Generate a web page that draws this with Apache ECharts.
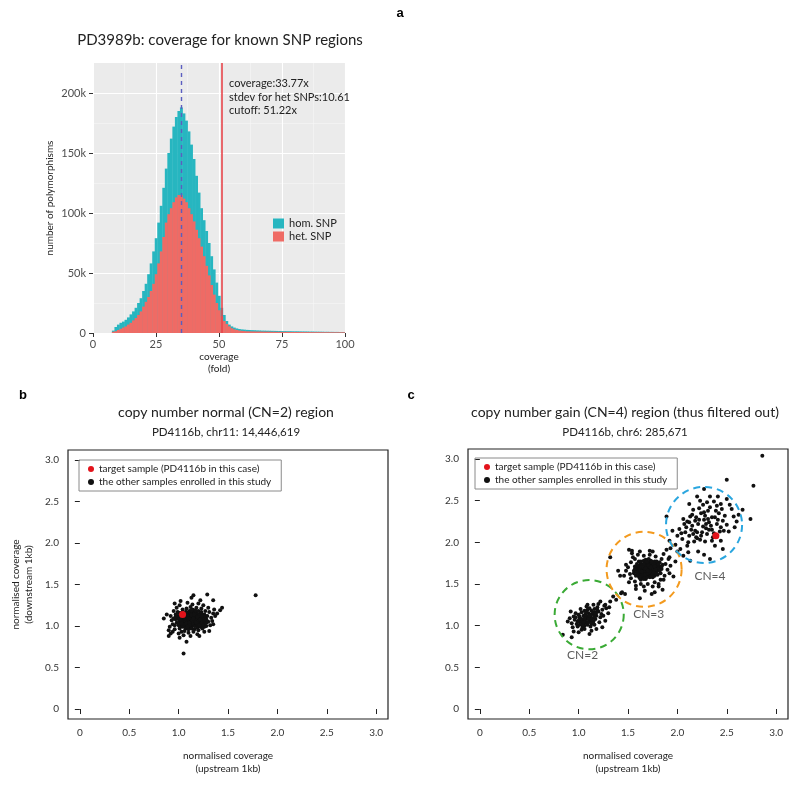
<!DOCTYPE html>
<html><head><meta charset="utf-8">
<script src="https://cdn.jsdelivr.net/npm/echarts/dist/echarts.min.js"></script>
<style>html,body{margin:0;padding:0;background:#fff}#main{width:800px;height:786px}</style>
</head><body><div id="main"></div>
<script>
// ---------- Panel a: histogram (counts in thousands, bins of width 1 starting at coverage 8) ----------
const binStart = 8;
const homCounts = [2,5,7,8.5,9.5,11,13,15.5,18,21,25,29,35,
  41,49,58,68,79,92,106,121,137,150,162,172,180,185,188,
  183,177,168,157,145,131,117,104,94,85,75,64,53,42,31,21,15,10,7,5.5,4.5,3.8,3.3,3.0,2.8,
  2.6,2.5,2.4,2.3,2.2,2.1,2.0,1.95,1.9,1.85,1.8,1.75,1.7,1.65,1.6,1.55,1.5,1.5,1.45,1.4,
  1.4,1.35,1.3,1.3,1.25,1.2,1.2,1.15,1.1,1.1,1.05,1.0,1.0,0.95,0.95,0.9,0.9,0.85,0.85,0.8];
const hetCounts = [1,1.5,2.5,3.5,4.5,5.5,7,8.5,10.5,12.5,15,18,22,
  26,30,35,41,49,58,68,80,92,99,104,109,113,115,115,
  112,109,104,99,93,86,79,72,64,56,48,40,32,25,19,14,10,7.5,5.5,4,3,2.5,2,1.8,1.6,
  1.4,1.35,1.3,1.25,1.2,1.2,1.15,1.1,1.1,1.05,1.0,1.0,0.95,0.95,0.9,0.9,0.9,0.85,0.85,0.85,
  0.8,0.8,0.8,0.75,0.75,0.75,0.7,0.7,0.7,0.7,0.65,0.65,0.65,0.65,0.6,0.6,0.6,0.6,0.6,0.6];
const histYTicks = [0,50,100,150,200];
const modeCoverage = 35;
const cutoffCoverage = 51.22;
const annotationLines = ['coverage:33.77x','stdev for het SNPs:10.61','cutoff: 51.22x'];

// ---------- Panels b and c: scatter ----------
const scatterTicks = [0,0.5,1.0,1.5,2.0,2.5,3.0];
const targetName = 'target sample (PD4116b in this case)';
const otherName = 'the other samples enrolled in this study';

const bTarget = [[1.04,1.14]];
const bOthers = [
[1.12,1.08],[1.05,1.10],[1.18,1.06],[1.09,1.02],[1.15,1.13],[1.01,1.05],[1.22,1.10],[1.07,1.15],[1.13,1.00],[1.19,1.14],
[1.03,1.12],[1.10,1.06],[1.16,1.03],[1.24,1.07],[1.00,1.08],[1.08,1.11],[1.14,1.09],[1.20,1.02],[1.06,1.04],[1.11,1.15],
[1.17,1.10],[1.02,1.00],[1.13,1.05],[1.25,1.12],[1.09,1.08],[0.99,1.12],[1.21,1.05],[1.04,1.07],[1.16,1.17],[1.12,1.02],
[1.07,1.00],[1.18,1.00],[1.26,1.03],[1.03,1.16],[1.10,1.12],[1.15,1.06],[1.22,1.15],[0.98,1.04],[1.06,1.13],[1.13,1.11],
[1.19,1.08],[1.08,1.05],[1.23,1.00],[1.01,1.10],[1.14,1.16],[1.11,0.99],[1.17,1.04],[1.05,1.02],[1.20,1.11],[1.09,1.14],
[1.27,1.09],[1.00,1.01],[1.12,1.14],[1.16,1.00],[1.04,1.09],[1.21,1.08],[1.08,0.98],[1.14,1.03],[1.24,1.14],[1.02,1.14],
[1.10,1.03],[1.18,1.12],[1.06,1.07],[1.13,1.08],[0.97,1.08],[1.25,1.05],[1.11,1.10],[1.19,1.02],[1.07,1.17],[1.15,1.11],
[1.00,1.03],[1.03,1.06],[1.06,1.09],[1.09,1.12],[1.12,1.16],[1.15,1.19],[1.18,1.16],[1.21,1.13],[1.24,1.10],[1.27,1.06],
[1.02,1.08],[1.05,1.01],[1.08,1.03],[1.11,1.04],[1.14,1.07],[1.17,1.07],[1.20,1.05],[1.23,1.03],[1.26,0.99],[1.28,1.04],
[0.99,1.10],[1.02,1.12],[1.05,1.15],[1.08,1.17],[1.11,1.18],[1.14,1.20],[1.17,1.19],[1.20,1.18],[1.23,1.17],[1.26,1.14],
[1.01,0.97],[1.04,0.99],[1.07,0.97],[1.10,0.96],[1.13,0.97],[1.16,0.96],[1.19,0.98],[1.22,0.99],[1.25,1.01],[1.28,1.08],
[0.96,1.01],[0.97,1.11],[1.00,1.16],[1.04,1.13],[1.07,1.09],[1.10,1.09],[1.13,1.13],[1.16,1.14],[1.19,1.11],[1.22,1.08],
[1.15,1.09],[1.11,1.01],[1.06,1.11],[1.18,1.04],[1.24,1.12],[1.09,0.99],[1.13,1.19],[1.03,1.03],[1.21,1.01],[1.27,1.12],
[0.92,1.12],[0.94,1.02],[0.96,0.96],[0.93,1.07],[0.95,1.18],[0.98,1.22],[1.01,1.25],[1.03,0.93],[1.06,0.94],[1.10,0.92],
[1.15,0.93],[1.20,0.95],[1.24,0.97],[1.28,1.00],[1.30,1.05],[1.29,1.12],[1.27,1.18],[1.23,1.21],[1.18,1.22],[1.12,1.23],
[1.08,1.21],[1.04,1.20],[0.99,1.17],[0.91,0.99],[0.90,0.95],[0.94,0.93],[1.00,0.91],[1.05,0.89],[1.12,0.88],[1.19,0.90],
[1.26,0.93],[1.32,1.01],[1.33,1.10],[1.31,1.17],[1.30,1.22],[1.25,1.25],[1.20,1.27],[1.14,1.26],[1.09,1.28],[1.02,1.30],
[0.97,1.14],[0.95,1.09],[1.35,1.15],[1.34,1.06],[1.37,1.12],[1.36,1.20],
[0.85,1.09],[0.88,1.14],[0.90,0.88],[0.92,0.91],[1.05,0.67],[1.08,0.81],[1.01,0.86],[1.15,1.37],[1.13,1.34],[1.22,1.31],
[1.29,1.38],[1.35,1.31],[1.42,1.19],[1.44,1.22],[1.39,1.15],[1.78,1.37],[1.35,1.02],[1.31,0.94],[1.21,0.88],[0.96,1.27]];

const cTarget = [[2.39,2.08]];
const cOthersCN2 = [
[1.08,1.08],[1.02,1.05],[1.12,1.10],[1.05,1.12],[1.15,1.05],[0.98,1.02],[1.10,1.15],[1.06,1.00],[1.18,1.12],[1.01,1.09],
[1.13,1.02],[1.09,1.19],[0.96,1.07],[1.20,1.17],[1.04,0.98],[1.16,1.20],[1.00,1.13],[1.11,1.06],[1.07,1.04],[1.14,1.14],
[0.99,0.99],[1.22,1.10],[1.03,1.16],[1.17,1.08],[1.08,1.23],[0.95,1.11],[1.12,0.99],[1.19,1.22],[1.05,1.07],[1.10,1.11],
[1.24,1.19],[0.97,1.15],[1.13,1.18],[1.06,0.96],[1.21,1.04],[1.02,1.20],[1.15,1.25],[0.93,1.03],[1.09,1.01],[1.18,1.16],
[1.26,1.24],[1.00,1.06],[1.11,1.21],[1.07,1.14],[1.23,1.14],[0.94,0.98],[1.14,1.09],[1.04,1.03],[1.16,1.01],[1.09,1.25],
[1.28,1.21],[0.91,1.09],[1.03,0.95],[1.20,1.26],[1.12,1.06],[0.97,1.10],[1.25,1.12],[1.06,1.18],[1.17,1.13],[1.01,1.01],
[1.03,1.08],[1.06,1.05],[1.09,1.10],[1.12,1.13],[1.15,1.16],[1.07,1.11],[1.10,1.04],[1.13,1.07],[1.04,1.01],[1.01,1.11],
[1.08,1.16],[1.16,1.11],[1.11,1.12],[1.05,1.04],[1.19,1.19],[0.99,1.05],[1.14,1.03],[1.06,1.09],[1.17,1.15],[1.10,1.08],
[0.92,1.17],[0.89,1.05],[0.95,0.93],[1.00,0.92],[1.11,0.90],[1.18,0.96],[1.27,1.06],[1.30,1.15],[1.27,1.25],[1.32,1.29],
[1.35,1.35],[1.31,1.22],[1.22,1.29],[0.84,0.89],[0.93,0.86],[1.43,1.39],[1.47,1.38],[1.38,1.31],[1.13,0.94],[1.24,0.98]];
const cOthersCN3 = [
[1.69,1.67],[1.62,1.63],[1.74,1.70],[1.66,1.72],[1.78,1.64],[1.58,1.60],[1.71,1.76],[1.65,1.58],[1.81,1.72],[1.60,1.69],
[1.73,1.62],[1.68,1.79],[1.56,1.66],[1.77,1.77],[1.63,1.55],[1.84,1.68],[1.67,1.64],[1.72,1.73],[1.59,1.74],[1.75,1.58],
[1.64,1.68],[1.80,1.61],[1.70,1.60],[1.61,1.77],[1.76,1.66],[1.66,1.62],[1.82,1.76],[1.57,1.71],[1.69,1.73],[1.73,1.68],
[1.63,1.66],[1.79,1.70],[1.68,1.56],[1.74,1.75],[1.60,1.62],[1.85,1.73],[1.66,1.78],[1.71,1.64],[1.77,1.60],[1.62,1.72],
[1.70,1.70],[1.65,1.65],[1.75,1.72],[1.58,1.67],[1.80,1.66],[1.67,1.75],[1.72,1.58],[1.61,1.59],[1.78,1.74],[1.64,1.61],
[1.83,1.63],[1.69,1.62],[1.73,1.78],[1.56,1.63],[1.76,1.69],[1.63,1.75],[1.71,1.69],[1.67,1.59],[1.79,1.77],[1.60,1.65],
[1.74,1.65],[1.66,1.69],[1.81,1.69],[1.70,1.74],[1.62,1.57],[1.77,1.63],[1.68,1.71],[1.64,1.73],[1.72,1.61],[1.59,1.70],
[1.61,1.66],[1.65,1.70],[1.68,1.65],[1.72,1.71],[1.75,1.67],[1.78,1.72],[1.63,1.60],[1.67,1.68],[1.70,1.63],[1.74,1.60],
[1.76,1.74],[1.80,1.68],[1.59,1.64],[1.62,1.70],[1.66,1.74],[1.69,1.77],[1.73,1.66],[1.77,1.71],[1.81,1.74],[1.65,1.61],
[1.69,1.58],[1.72,1.64],[1.75,1.62],[1.78,1.67],[1.64,1.65],[1.68,1.69],[1.71,1.72],[1.60,1.72],[1.74,1.77],[1.82,1.66],
[1.57,1.68],[1.67,1.61],[1.70,1.66],[1.73,1.70],[1.79,1.62],[1.63,1.77],[1.76,1.64],[1.66,1.56],[1.71,1.80],[1.84,1.71],
[1.52,1.62],[1.50,1.70],[1.53,1.76],[1.55,1.82],[1.60,1.85],[1.66,1.84],[1.72,1.85],[1.78,1.83],[1.84,1.80],[1.88,1.74],
[1.90,1.67],[1.87,1.60],[1.83,1.55],[1.77,1.52],[1.70,1.50],[1.63,1.50],[1.57,1.53],[1.53,1.57],[1.48,1.66],[1.51,1.52],
[1.58,1.48],[1.66,1.47],[1.75,1.47],[1.81,1.50],[1.86,1.55],[1.92,1.63],[1.93,1.72],[1.91,1.80],[1.86,1.86],[1.75,1.89],
[1.62,1.89],[1.54,1.87],[1.57,1.80],[1.48,1.73],[1.46,1.60],
[1.32,1.82],[1.42,1.60],[1.44,1.40],[1.62,1.33],[1.74,1.38],[1.77,1.40],[1.89,1.91],[1.93,1.93],[1.51,1.91],[1.72,1.90],
[1.81,1.47],[1.96,1.59],[1.92,1.82],[2.00,1.89],[1.58,1.44],[1.67,1.42],[1.85,1.43],[1.54,1.90],[1.98,1.77],[1.40,1.66]];
const cOthersCN4 = [
[2.26,2.19],[2.18,2.14],[2.32,2.24],[2.22,2.27],[2.35,2.15],[2.12,2.08],[2.28,2.32],[2.20,2.05],[2.40,2.22],[2.15,2.20],
[2.30,2.10],[2.24,2.35],[2.08,2.12],[2.38,2.30],[2.17,2.01],[2.44,2.18],[2.25,2.12],[2.31,2.38],[2.10,2.25],[2.36,2.06],
[2.21,2.22],[2.42,2.35],[2.14,2.15],[2.27,2.27],[2.05,2.04],[2.33,2.42],[2.19,2.30],[2.46,2.26],[2.23,2.03],[2.29,2.17],
[2.02,2.16],[2.37,2.11],[2.16,2.39],[2.40,2.44],[2.11,2.00],[2.34,2.20],[2.26,2.45],[2.48,2.32],[2.07,2.22],[2.20,2.12],
[2.43,2.13],[2.13,2.31],[2.30,2.48],[2.24,2.08],[2.39,2.38],[2.00,2.08],[2.18,2.26],[2.35,2.30],[2.28,2.01],[2.45,2.40],
[2.09,2.18],[2.22,2.41],[2.32,2.15],[2.16,2.10],[2.41,2.27],[2.04,2.11],[2.27,2.36],[2.37,2.49],[2.12,2.24],[2.50,2.21],
[2.19,2.06],[2.31,2.28],[2.23,2.50],[2.44,2.46],[2.06,2.28],[2.35,2.02],[2.15,2.33],[2.29,2.22],[2.47,2.14],[2.10,1.96],
[2.52,2.13],[2.57,2.31],[2.60,2.25],[2.55,2.40],[2.50,2.52],[2.41,2.55],[2.33,2.55],[2.27,2.64],[2.20,2.55],[2.12,2.46],
[1.95,2.14],[1.92,2.02],[1.98,1.97],[2.03,1.92],[2.11,1.88],[2.13,1.78],[2.21,1.89],[2.33,1.80],[2.27,1.85],[2.38,1.96],
[2.44,2.02],[2.58,2.18],[1.89,2.31],[2.66,2.39],[2.74,2.28],[2.77,2.68],[2.50,2.75],[2.86,3.04],[2.06,1.84],[2.46,1.92],
[2.53,2.45],[2.62,2.33]];

// copy-number circles (centre x, centre y, radius in x units) and labels
const cnNames = ['CN=2','CN=3','CN=4'];
const cnCentreX = [1.107,1.663,2.27];
const cnCentreY = [1.132,1.676,2.209];
const cnRadius = [0.35,0.38,0.385];
const cnLabelX = [1.04,1.71,2.33];
const cnLabelY = [0.65,1.14,1.60];

// ---------- styles ----------
const FONT = 'Lato, "Noto Sans", sans-serif';
const TEAL = '#27B6C0';
const SALMON = '#EF6B65';
const cnColors = ['#3AAA35','#F39A1E','#2AA6DF'];

const chart = echarts.init(document.getElementById('main'), null, {renderer:'canvas'});

function histItem(params, api){
  const x = api.value(0), v = api.value(1);
  const a = api.coord([x - 0.5, v]);
  const b = api.coord([x + 0.5, 0]);
  return {type:'rect', shape:{x:a[0], y:a[1], width:b[0]-a[0]+0.4, height:b[1]-a[1]},
    style:{fill: api.visual('color')}};
}
function circleItem(params, api){
  const c = api.coord([api.value(0), api.value(1)]);
  const r = api.size([api.value(2), 0])[0];
  return {type:'circle', shape:{cx:c[0], cy:c[1], r:r},
    style:{fill:'none', stroke: cnColors[params.dataIndex], lineWidth:2, lineDash:[7,5]}};
}
const fmtTick = v => v === 0 ? '0' : v.toFixed(1);

function scatterAxisX(gi){
  return {gridIndex:gi, type:'value', min:-0.12, max:3.12,
    axisLine:{show:false}, splitLine:{show:false},
    axisTick:{show:true, customValues:scatterTicks, length:5, lineStyle:{color:'#222', width:1}},
    axisLabel:{customValues:scatterTicks, formatter:fmtTick, fontSize:10, color:'#333', margin:9, fontFamily:FONT},
    name:'normalised coverage\n(upstream 1kb)', nameLocation:'middle', nameGap:30,
    nameTextStyle:{fontSize:10, color:'#222', lineHeight:13, fontFamily:FONT}};
}
function scatterAxisY(gi, withName){
  return {gridIndex:gi, type:'value', min:-0.12, max:3.12,
    axisLine:{show:false}, splitLine:{show:false},
    axisTick:{show:true, customValues:scatterTicks, length:5, lineStyle:{color:'#222', width:1}},
    axisLabel:{customValues:scatterTicks, formatter:fmtTick, fontSize:10, color:'#333', margin:9, fontFamily:FONT},
    name: withName ? 'normalised coverage\n(downstream 1kb)' : '', nameLocation:'middle', nameGap:33,
    nameTextStyle:{fontSize:10, color:'#222', lineHeight:13, fontFamily:FONT}};
}
function scatterLegend(left, top){
  return {left:left, top:top, orient:'vertical', padding:[4,10,4,9], itemGap:3,
    itemWidth:6, itemHeight:6, icon:'circle', borderColor:'#8a8a8a', borderWidth:1,
    textStyle:{fontSize:10, color:'#222', fontFamily:FONT}, data:[targetName, otherName], selectedMode:false};
}

const bins = homCounts.map((_, i) => binStart + i);

const option = {
  animation:false,
  textStyle:{fontFamily:FONT},
  grid:[
    {left:93, right:455, top:63, bottom:453, show:true, backgroundColor:'#EBEBEB', borderWidth:0},
    {left:68, right:412, top:450, bottom:67, show:true, borderColor:'#222', borderWidth:1.2},
    {left:468, right:12, top:449, bottom:67, show:true, borderColor:'#222', borderWidth:1.2}
  ],
  xAxis:[
    {gridIndex:0, type:'value', min:0, max:100, interval:25,
      axisLine:{show:false}, axisTick:{show:true, length:4, lineStyle:{color:'#333'}},
      axisLabel:{color:'#4D4D4D', fontSize:11, margin:6, fontFamily:FONT},
      splitLine:{show:true, lineStyle:{color:'#fff', width:1.1}},
      minorTick:{show:false, splitNumber:2}, minorSplitLine:{show:true, lineStyle:{color:'#F7F7F7', width:0.6}},
      name:'coverage\n(fold)', nameLocation:'middle', nameGap:18,
      nameTextStyle:{fontSize:10, color:'#222', lineHeight:12, fontFamily:FONT}},
    scatterAxisX(1), scatterAxisX(2)
  ],
  yAxis:[
    {gridIndex:0, type:'value', min:0, max:225, interval:50,
      axisLine:{show:false},
      axisTick:{show:true, customValues:histYTicks, length:4, lineStyle:{color:'#333'}},
      axisLabel:{customValues:histYTicks, formatter:v => v === 0 ? '0' : v + 'k', color:'#4D4D4D', fontSize:11, margin:7, fontFamily:FONT},
      splitLine:{show:true, lineStyle:{color:'#fff', width:1.1}},
      minorTick:{show:false, splitNumber:2}, minorSplitLine:{show:true, lineStyle:{color:'#F7F7F7', width:0.6}},
      name:'number of polymorphisms', nameLocation:'middle', nameGap:38,
      nameTextStyle:{fontSize:10, color:'#222', fontFamily:FONT}},
    scatterAxisY(1, true), scatterAxisY(2, false)
  ],
  legend:[
    {left:268, top:213, orient:'vertical', itemGap:2, itemWidth:11, itemHeight:10, icon:'rect',
      textStyle:{fontSize:11, color:'#222', fontFamily:FONT}, data:['hom. SNP','het. SNP'], selectedMode:false},
    scatterLegend(79, 460), scatterLegend(475, 458)
  ],
  series:[
    {type:'custom', name:'hom. SNP', xAxisIndex:0, yAxisIndex:0, renderItem:histItem, clip:true,
      itemStyle:{color:TEAL}, encode:{x:0, y:1}, data:homCounts.map((v,i)=>[bins[i], v]), z:2},
    {type:'custom', name:'het. SNP', xAxisIndex:0, yAxisIndex:0, renderItem:histItem, clip:true,
      itemStyle:{color:SALMON}, encode:{x:0, y:1}, data:hetCounts.map((v,i)=>[bins[i], v]), z:3},
    {type:'line', name:'lines', xAxisIndex:0, yAxisIndex:0, data:[], z:5,
      markLine:{silent:true, symbol:'none', label:{show:false}, animation:false,
        data:[
          {xAxis:modeCoverage, lineStyle:{color:'#5B5EC0', type:[4,4], width:1.4}},
          {xAxis:cutoffCoverage, lineStyle:{color:'#E8464C', type:'solid', width:1.6}}
        ]}},
    // panel b
    {type:'scatter', name:otherName, xAxisIndex:1, yAxisIndex:1, data:bOthers, symbolSize:4,
      itemStyle:{color:'#111', opacity:1}, z:3},
    {type:'scatter', name:targetName, xAxisIndex:1, yAxisIndex:1, data:bTarget, symbolSize:7,
      itemStyle:{color:'#E3131B', opacity:1}, z:4},
    // panel c
    {type:'scatter', name:otherName, xAxisIndex:2, yAxisIndex:2,
      data:cOthersCN2.concat(cOthersCN3, cOthersCN4), symbolSize:4, itemStyle:{color:'#111', opacity:1}, z:3},
    {type:'scatter', name:targetName, xAxisIndex:2, yAxisIndex:2, data:cTarget, symbolSize:7,
      itemStyle:{color:'#E3131B', opacity:1}, z:4},
    {type:'custom', name:'circles', xAxisIndex:2, yAxisIndex:2, renderItem:circleItem, clip:true,
      encode:{x:0, y:1}, data:cnCentreX.map((x,i)=>[x, cnCentreY[i], cnRadius[i]]), z:5},
    {type:'scatter', name:'cnLabels', xAxisIndex:2, yAxisIndex:2, symbolSize:0, z:6,
      data:cnNames.map((n,i)=>({name:n, value:[cnLabelX[i], cnLabelY[i]]})),
      label:{show:true, position:'inside', formatter:'{b}', fontSize:12, color:'#333', fontFamily:FONT}}
  ],
  graphic:[
    {type:'text', x:400, y:13, style:{text:'a', font:'bold 13px Arial, "Liberation Sans", sans-serif', fill:'#000', textAlign:'center', textVerticalAlign:'middle'}},
    {type:'text', x:23, y:395, style:{text:'b', font:'bold 13px Arial, "Liberation Sans", sans-serif', fill:'#000', textAlign:'center', textVerticalAlign:'middle'}},
    {type:'text', x:411, y:395, style:{text:'c', font:'bold 13px Arial, "Liberation Sans", sans-serif', fill:'#000', textAlign:'center', textVerticalAlign:'middle'}},
    {type:'text', x:220, y:40, style:{text:'PD3989b: coverage for known SNP regions', fontSize:15, fontFamily:FONT, fill:'#222', textAlign:'center', textVerticalAlign:'middle'}},
    {type:'text', x:229, y:83, z:100, style:{text:annotationLines[0], fontSize:11, fontFamily:FONT, fill:'#222', textVerticalAlign:'middle'}},
    {type:'text', x:229, y:97, z:100, style:{text:annotationLines[1], fontSize:11, fontFamily:FONT, fill:'#222', textVerticalAlign:'middle'}},
    {type:'text', x:229, y:110, z:100, style:{text:annotationLines[2], fontSize:11, fontFamily:FONT, fill:'#222', textVerticalAlign:'middle'}},
    {type:'text', x:226, y:412, style:{text:'copy number normal (CN=2) region', fontSize:14, fontFamily:FONT, fill:'#222', textAlign:'center', textVerticalAlign:'middle'}},
    {type:'text', x:226, y:432, style:{text:'PD4116b, chr11: 14,446,619', fontSize:11.5, fontFamily:FONT, fill:'#222', textAlign:'center', textVerticalAlign:'middle'}},
    {type:'text', x:625, y:412, style:{text:'copy number gain (CN=4) region (thus filtered out)', fontSize:14, fontFamily:FONT, fill:'#222', textAlign:'center', textVerticalAlign:'middle'}},
    {type:'text', x:625, y:432, style:{text:'PD4116b, chr6: 285,671', fontSize:11.5, fontFamily:FONT, fill:'#222', textAlign:'center', textVerticalAlign:'middle'}}
  ]
};
chart.setOption(option);
</script>
</body></html>
